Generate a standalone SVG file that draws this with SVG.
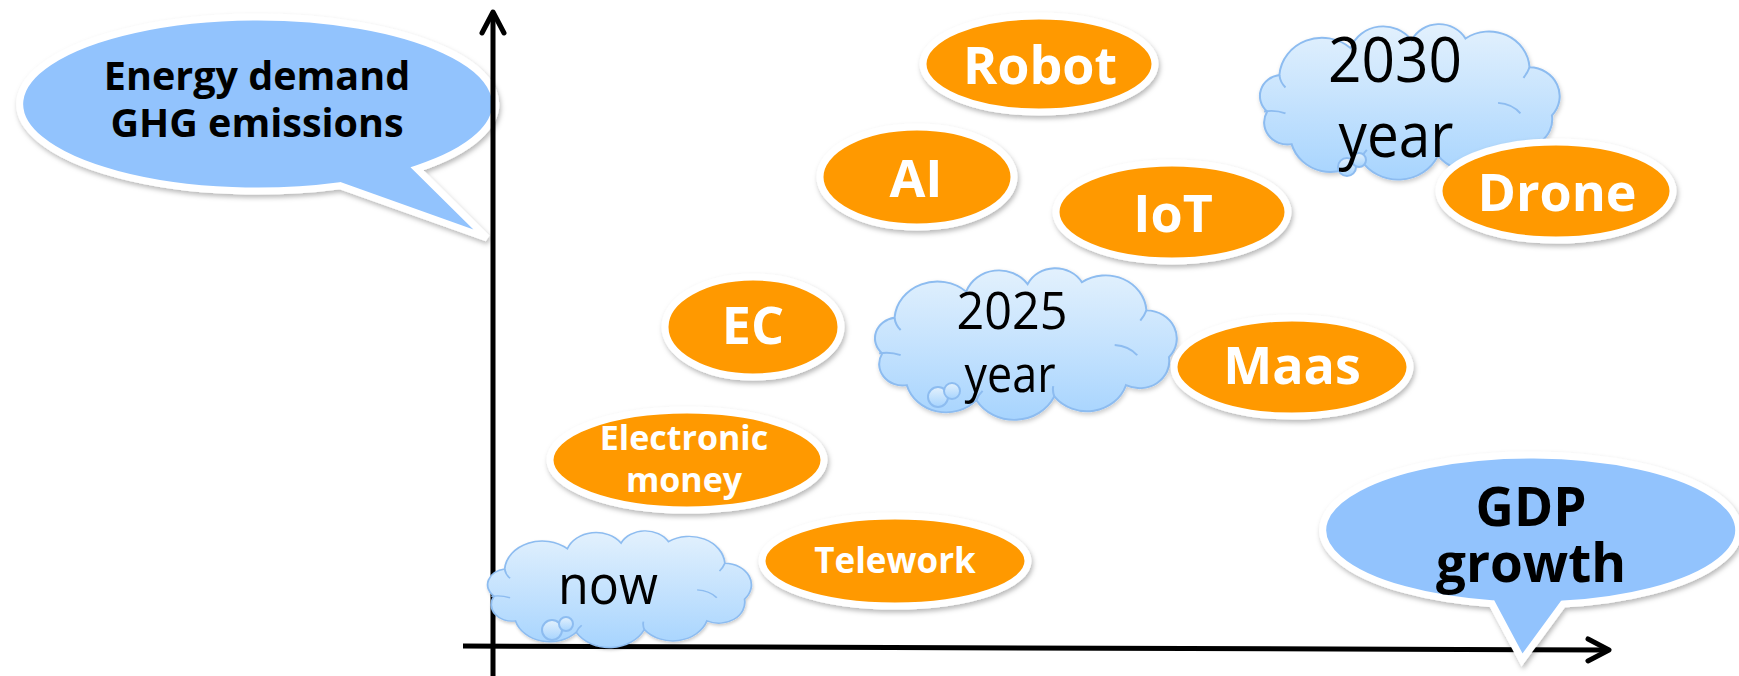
<svg xmlns="http://www.w3.org/2000/svg" width="1739" height="676" viewBox="0 0 1739 676">
<defs>
  <filter id="sh" x="-10%" y="-15%" width="125%" height="140%">
    <feDropShadow dx="1.5" dy="3" stdDeviation="2.5" flood-color="#000" flood-opacity="0.28"/>
  </filter>
  <filter id="shc" x="-10%" y="-15%" width="125%" height="140%">
    <feDropShadow dx="1" dy="2.5" stdDeviation="2" flood-color="#000" flood-opacity="0.2"/>
  </filter>
  <linearGradient id="cg" x1="0" y1="0" x2="0" y2="1">
    <stop offset="0" stop-color="#E3F1FD"/>
    <stop offset="1" stop-color="#A7D4FE"/>
  </linearGradient>
  <marker id="arr" viewBox="-26 -15 30 30" refX="0" refY="0" markerWidth="30" markerHeight="30" markerUnits="userSpaceOnUse" orient="auto">
    <path d="M-21,-11 L0,0 L-21,11" fill="none" stroke="#000" stroke-width="5" stroke-linecap="round" stroke-linejoin="round"/>
  </marker>
  <path id="cloud" d="M22,50 A42,42 0 0 1 92,22 A34,34 0 0 1 152,14 A30,30 0 0 1 205,12 A40,40 0 0 1 268,42 A30,30 0 0 1 290,92 A29,29 0 0 1 248,122 A40,40 0 0 1 178,134 A43,43 0 0 1 102,138 A40,40 0 0 1 34,122 A23,23 0 0 1 10,88 A22,22 0 0 1 22,50 Z"/>
  <path id="cloudin" d="M22,50 Q23,58 28,63 M268,42 Q266,48 262,53 M237,79 Q251,80 259,90 M178,134 Q176,128 177,123 M7,88 Q18,86 28,90 M102,138 Q104,132 108,128"/>
</defs>
<style>
  .bub { fill: #92C3FD; stroke: #fff; stroke-width: 7; filter: url(#sh); }
  .ov { fill: #FF9900; stroke: #fff; stroke-width: 7; filter: url(#sh); }
  .bt { font-family: "Open Sans", "Noto Sans", sans-serif; font-weight: 700; fill: #000; text-anchor: middle; }
  .ot { font-family: "Open Sans", "Noto Sans", sans-serif; font-weight: 700; fill: #fff; text-anchor: middle; }
  .ct { font-family: "Open Sans", "Noto Sans", sans-serif; font-weight: 400; fill: #000; text-anchor: middle; }
  .cl { fill: url(#cg); stroke: #8DBCF0; stroke-width: 2; vector-effect: non-scaling-stroke; }
  .ci { fill: none; stroke: #8DBCF0; stroke-width: 2; vector-effect: non-scaling-stroke; }
  .ax { fill: none; stroke: #000; stroke-width: 5; marker-end: url(#arr); }
</style>

<g id="energy">
  <path class="bub" d="M417,168.7 L487,238 L340,185.7 A238,87 0 1 1 417,168.7 Z"/>
  <text class="bt" font-size="39.5" x="257" y="90">Energy demand</text>
  <text class="bt" font-size="39.5" x="257" y="137">GHG emissions</text>
</g>

<g id="axes">
  <line class="ax" x1="493" y1="676" x2="493" y2="12"/>
  <line class="ax" x1="463" y1="646" x2="1609" y2="650"/>
</g>

<g id="robot">
  <ellipse class="ov" cx="1039" cy="64" rx="116" ry="48"/>
  <text class="ot" font-size="52" x="1040" y="84">Robot</text>
</g>
<g id="ai">
  <ellipse class="ov" cx="917" cy="177" rx="97" ry="50"/>
  <text class="ot" font-size="52" x="916" y="197">AI</text>
</g>
<g id="iot">
  <ellipse class="ov" cx="1172" cy="212" rx="116" ry="49"/>
  <text class="ot" font-size="52" x="1173" y="232">IoT</text>
</g>

<g id="cloud2030">
  <g transform="translate(1257,27) scale(1.017,0.96)">
    <use href="#cloud" class="cl" filter="url(#shc)"/>
    <use href="#cloudin" class="ci"/>
  </g>
  <ellipse class="cl" cx="1347" cy="167" rx="9" ry="9"/>
  <ellipse class="cl" cx="1359" cy="160" rx="7" ry="7"/>
  <text class="ct" font-size="62" x="1395" y="82" textLength="134" lengthAdjust="spacingAndGlyphs">2030</text>
  <text class="ct" font-size="62" x="1396" y="157" textLength="115" lengthAdjust="spacingAndGlyphs">year</text>
</g>

<g id="drone">
  <ellipse class="ov" cx="1556" cy="191" rx="117" ry="49"/>
  <text class="ot" font-size="52" x="1557" y="211">Drone</text>
</g>

<g id="ec">
  <ellipse class="ov" cx="753" cy="327" rx="88" ry="50"/>
  <text class="ot" font-size="52" x="753" y="344">EC</text>
</g>

<g id="cloud2025">
  <g transform="translate(872,271) scale(1.024,0.936)">
    <use href="#cloud" class="cl" filter="url(#shc)"/>
    <use href="#cloudin" class="ci"/>
  </g>
  <ellipse class="cl" cx="938" cy="397" rx="10" ry="10"/>
  <ellipse class="cl" cx="952" cy="391" rx="8" ry="8"/>
  <text class="ct" font-size="52" x="1012" y="329" textLength="111" lengthAdjust="spacingAndGlyphs">2025</text>
  <text class="ct" font-size="52" x="1010" y="392" textLength="91" lengthAdjust="spacingAndGlyphs">year</text>
</g>

<g id="maas">
  <ellipse class="ov" cx="1292" cy="367" rx="118" ry="49"/>
  <text class="ot" font-size="52" x="1292" y="384">Maas</text>
</g>

<g id="emoney">
  <ellipse class="ov" cx="687" cy="460" rx="137" ry="50"/>
  <text class="ot" font-size="34" x="684" y="450">Electronic</text>
  <text class="ot" font-size="34" x="684" y="492">money</text>
</g>

<g id="telework">
  <ellipse class="ov" cx="895" cy="561" rx="133" ry="45"/>
  <text class="ot" font-size="35" x="895" y="573">Telework</text>
</g>

<g id="now">
  <g transform="translate(485,533) scale(0.895,0.72)">
    <use href="#cloud" class="cl" filter="url(#shc)"/>
    <use href="#cloudin" class="ci"/>
  </g>
  <ellipse class="cl" cx="552" cy="630" rx="10" ry="10"/>
  <ellipse class="cl" cx="566" cy="624" rx="7" ry="7"/>
  <text class="ct" font-size="54" x="608" y="604" textLength="100" lengthAdjust="spacingAndGlyphs">now</text>
</g>

<g id="gdp">
  <path class="bub" d="M1563,604.1 L1522,660 L1492,603.7 A208,75 0 1 1 1563,604.1 Z"/>
  <text class="bt" font-size="53" x="1531" y="526">GDP</text>
  <text class="bt" font-size="53" x="1531" y="582">growth</text>
</g>
</svg>
